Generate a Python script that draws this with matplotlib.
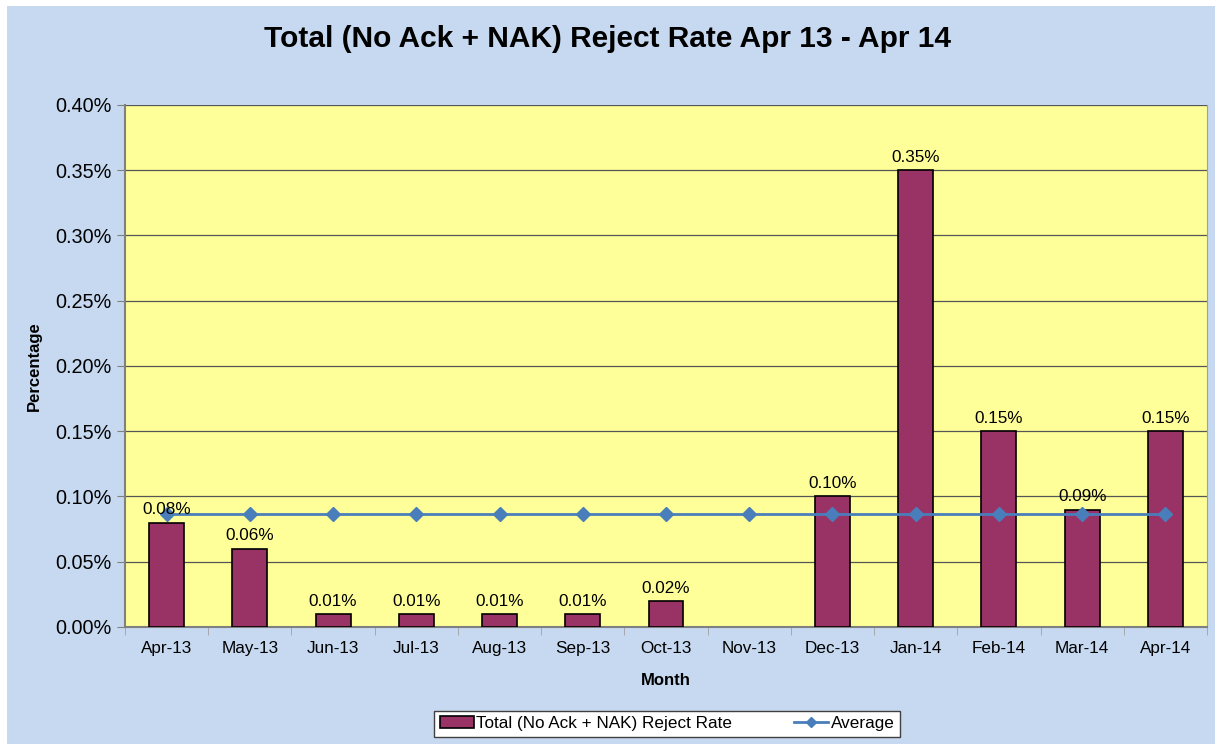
import matplotlib.pyplot as plt
import matplotlib.patches as mpatches
from matplotlib.ticker import FuncFormatter
import numpy as np

plt.rcParams['font.family'] = ['Liberation Sans', 'DejaVu Sans']

months = ['Apr-13', 'May-13', 'Jun-13', 'Jul-13', 'Aug-13', 'Sep-13', 'Oct-13',
          'Nov-13', 'Dec-13', 'Jan-14', 'Feb-14', 'Mar-14', 'Apr-14']
reject_rate = [0.08, 0.06, 0.01, 0.01, 0.01, 0.01, 0.02, 0.0, 0.10, 0.35, 0.15, 0.09, 0.15]
labels = ['0.08%', '0.06%', '0.01%', '0.01%', '0.01%', '0.01%', '0.02%', '',
          '0.10%', '0.35%', '0.15%', '0.09%', '0.15%']
average = [0.0866] * 13

fig = plt.figure(figsize=(12.15, 7.44), dpi=100, facecolor='white')
# light blue chart area with a thin white margin
fig.patches.append(mpatches.Rectangle((7/1215, 0), 1 - 7/1215, 1 - 6/744,
                                      transform=fig.transFigure, facecolor='#C6D9F0',
                                      edgecolor='none', zorder=-10))

ax = fig.add_axes([0.1029, 0.1573, 0.8905, 0.7016])
ax.set_facecolor('#FFFF99')

x = np.arange(len(months))
lw = [1.2 if v > 0 else 0 for v in reject_rate]
bars = ax.bar(x, reject_rate, width=0.42, color='#993366', edgecolor='black',
              linewidth=lw, zorder=3, label='Total (No Ack + NAK) Reject Rate')
ax.plot(x, average, color='#4A7EBB', linewidth=2, marker='D', markersize=7,
        zorder=4, label='Average')

for xi, v, lab in zip(x, reject_rate, labels):
    if lab:
        ax.text(xi, v + 0.004, lab, ha='center', va='bottom', fontsize=12.3, zorder=5)

ax.set_xlim(-0.5, len(months) - 0.5)
ax.set_ylim(0, 0.40)
ax.set_yticks(np.arange(0, 0.401, 0.05))
ax.yaxis.set_major_formatter(FuncFormatter(lambda v, p: f'{v:.2f}%'))
ax.set_xticks(x)
ax.set_xticklabels(months, fontsize=12.3)
ax.tick_params(axis='y', labelsize=14.3, length=6, color='#808080', pad=4)
ax.set_xticks(np.arange(-0.5, len(months), 1), minor=True)
ax.tick_params(axis='x', which='major', length=0, pad=10)
ax.tick_params(axis='x', which='minor', length=6, color='#A0A0A0')

ax.grid(axis='y', color='#555555', linewidth=0.9, zorder=1)
ax.set_axisbelow(True)
ax.spines['top'].set_visible(False)
ax.spines['right'].set_color('#A0A0A0')
ax.spines['left'].set_color('#808080')
ax.spines['bottom'].set_color('#808080')
ax.spines['left'].set_linewidth(1.5)
ax.spines['bottom'].set_linewidth(1.5)

ax.set_xlabel('Month', fontsize=12, fontweight='bold', labelpad=12)
ax.set_ylabel('Percentage', fontsize=12, fontweight='bold', labelpad=9)

fig.text(0.5, 0.947, 'Total (No Ack + NAK) Reject Rate Apr 13 - Apr 14',
         ha='center', va='center', fontsize=21.5, fontweight='bold')

handles, hlabels = ax.get_legend_handles_labels()
order = [1, 0] if hlabels[0] == 'Average' else [0, 1]
leg = fig.legend([handles[i] for i in order], [hlabels[i] for i in order],
                 loc='center', bbox_to_anchor=(0.549, 0.027), ncol=2, fontsize=12.3,
                 frameon=True, fancybox=False, edgecolor='#404040', framealpha=1,
                 handlelength=2.0, handletextpad=0.15, columnspacing=3.6,
                 borderpad=0.3, markerscale=0.7)
leg.get_frame().set_linewidth(1.0)

plt.savefig('out.png', dpi=100, facecolor=fig.get_facecolor())
